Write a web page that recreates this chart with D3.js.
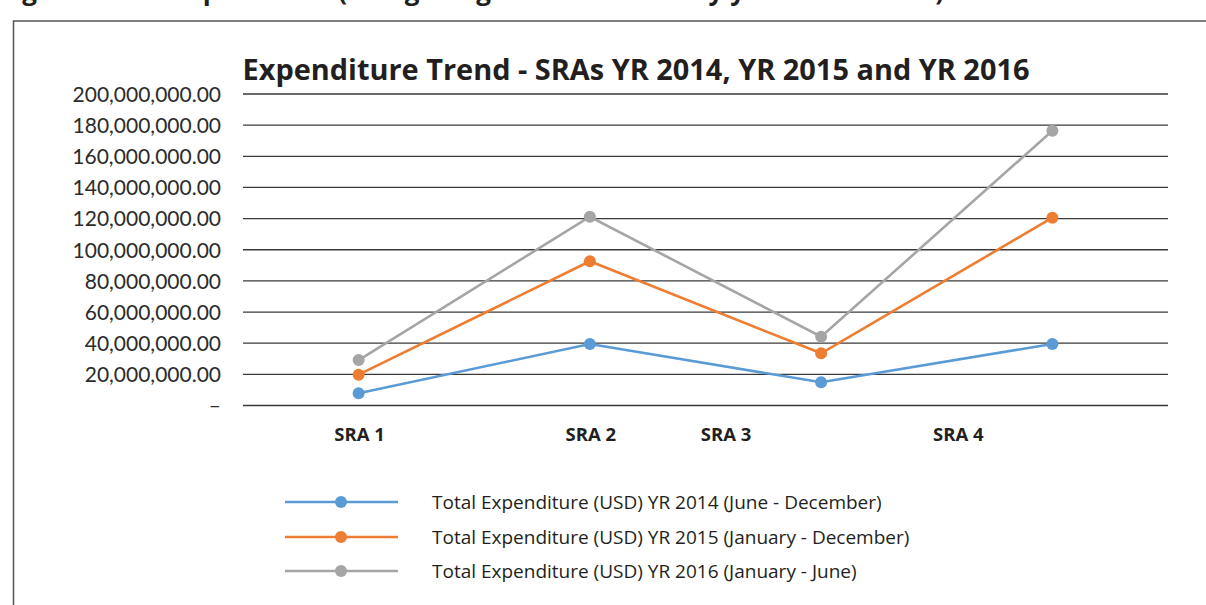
<!DOCTYPE html>
<html>
<head>
<meta charset="utf-8">
<script src="https://cdn.jsdelivr.net/npm/d3@7"></script>
<style>
  body { margin: 0; background: #fff; }
  svg { display: block; }
</style>
</head>
<body>
<div id="chart"></div>
<script>
// categories on the x axis
var categories = ["SRA 1", "SRA 2", "SRA 3", "SRA 4"];
// series values (USD)
var values2014 = [7.8e6, 39.5e6, 14.9e6, 39.5e6];
var values2015 = [19.8e6, 92.6e6, 33.5e6, 120.6e6];
var values2016 = [29.2e6, 121.2e6, 44.2e6, 176.4e6];
var seriesNames = [
    "Total Expenditure (USD) YR 2014 (June - December)",
    "Total Expenditure (USD) YR 2015 (January - December)",
    "Total Expenditure (USD) YR 2016 (January  - June)"
];
// y tick values and labels as printed in the figure
var tickValues = [0, 20e6, 40e6, 60e6, 80e6, 100e6, 120e6, 140e6, 160e6, 180e6, 200e6];
var tickLabels = ["\u2013", "20,000,000.00", "40,000,000.00", "60,000,000.00", "80,000,000.00",
    "100,000,000.00", "120,000,000.00", "140,000,000.00", "160,000.000.00",
    "180,000,000.00", "200,000,000.00"];
var chartTitle = "Expenditure Trend - SRAs YR 2014, YR 2015 and YR 2016";

function init() {
    var w = 1206;
    var h = 605;
    var colors = ["#5b9bd5", "#ed7d31", "#a5a5a5"];
    var series = [values2014, values2015, values2016];

    var svg = d3.select("#chart")
        .append("svg")
        .attr("width", w)
        .attr("height", h);

    // caption of the page above the box, only its lower edge shows
    svg.append("text")
        .attr("x", 0)
        .attr("y", 0)
        .attr("font-family", "Open Sans, sans-serif")
        .attr("font-weight", "bold")
        .attr("font-size", 26)
        .attr("fill", "#231f20")
        .text("Figure 4: SRA Expenditure (Using budget data of SRAs by year 2014 - 2016)");

    // figure box
    svg.append("rect")
        .attr("x", 13.5)
        .attr("y", 21)
        .attr("width", 1250)
        .attr("height", 700)
        .attr("fill", "none")
        .attr("stroke", "#555")
        .attr("stroke-width", 1.5);

    var xScale = d3.scaleBand()
        .domain(categories)
        .range([243, 1168]);

    var yScale = d3.scaleLinear()
        .domain([0, 200e6])
        .range([405.5, 94]);

    // title
    svg.append("text")
        .attr("x", 636)
        .attr("y", 80)
        .attr("text-anchor", "middle")
        .attr("font-family", "Open Sans, sans-serif")
        .attr("font-weight", "bold")
        .attr("font-size", 28)
        .attr("fill", "#231f20")
        .attr("textLength", 787)
        .attr("lengthAdjust", "spacingAndGlyphs")
        .text(chartTitle);

    // gridlines
    svg.append("g")
        .selectAll("line")
        .data(tickValues)
        .enter()
        .append("line")
        .attr("x1", xScale.range()[0])
        .attr("x2", xScale.range()[1])
        .attr("y1", function (d) { return yScale(d); })
        .attr("y2", function (d) { return yScale(d); })
        .attr("stroke", "#3a3a3a")
        .attr("stroke-width", 1.3);

    // y axis labels
    var yAxis = d3.axisLeft(yScale)
        .tickValues(tickValues)
        .tickSize(0)
        .tickPadding(0)
        .tickFormat(function (d, i) { return tickLabels[i]; });
    var yg = svg.append("g")
        .attr("transform", "translate(221,0)")
        .call(yAxis);
    yg.select(".domain").remove();
    yg.selectAll("text")
        .attr("font-family", "Lato, sans-serif")
        .attr("font-size", 21)
        .attr("fill", "#2b2b2b")
        .attr("dy", "0.35em");

    // x axis labels (SRA 3 and SRA 4 sit left of their points in the source)
    var labelShift = [0, 0, -96, -95];
    var xAxis = d3.axisBottom(xScale).tickSize(0).tickPadding(0);
    var xg = svg.append("g")
        .attr("transform", "translate(0,441)")
        .call(xAxis);
    xg.select(".domain").remove();
    xg.selectAll(".tick text")
        .attr("y", 0)
        .attr("dy", 0)
        .attr("x", function (d, i) { return labelShift[i] + 1; })
        .attr("font-family", "Open Sans, sans-serif")
        .attr("font-weight", "bold")
        .attr("font-size", 18.5)
        .attr("fill", "#231f20");

    var cx = function (d, i) { return xScale(categories[i]) + xScale.bandwidth() / 2; };
    var line = d3.line()
        .x(cx)
        .y(function (d) { return yScale(d); });

    // series lines and markers
    series.forEach(function (s, k) {
        svg.append("path")
            .datum(s)
            .attr("d", line)
            .attr("fill", "none")
            .attr("stroke", colors[k])
            .attr("stroke-width", 2.6);
        svg.append("g")
            .selectAll("circle")
            .data(s)
            .enter()
            .append("circle")
            .attr("cx", cx)
            .attr("cy", function (d) { return yScale(d); })
            .attr("r", 6)
            .attr("fill", colors[k]);
    });

    // legend
    var legendY = [502, 537, 571];
    var lg = svg.append("g");
    seriesNames.forEach(function (name, k) {
        lg.append("line")
            .attr("x1", 285).attr("x2", 398)
            .attr("y1", legendY[k]).attr("y2", legendY[k])
            .attr("stroke", colors[k])
            .attr("stroke-width", 2.6);
        lg.append("circle")
            .attr("cx", 341)
            .attr("cy", legendY[k])
            .attr("r", 6)
            .attr("fill", colors[k]);
        lg.append("text")
            .attr("x", 432)
            .attr("y", legendY[k])
            .attr("dy", "0.35em")
            .attr("font-family", "Open Sans, sans-serif")
            .attr("font-size", 19)
            .attr("fill", "#231f20")
            .text(name);
    });
}

window.onload = init;
</script>
</body>
</html>
